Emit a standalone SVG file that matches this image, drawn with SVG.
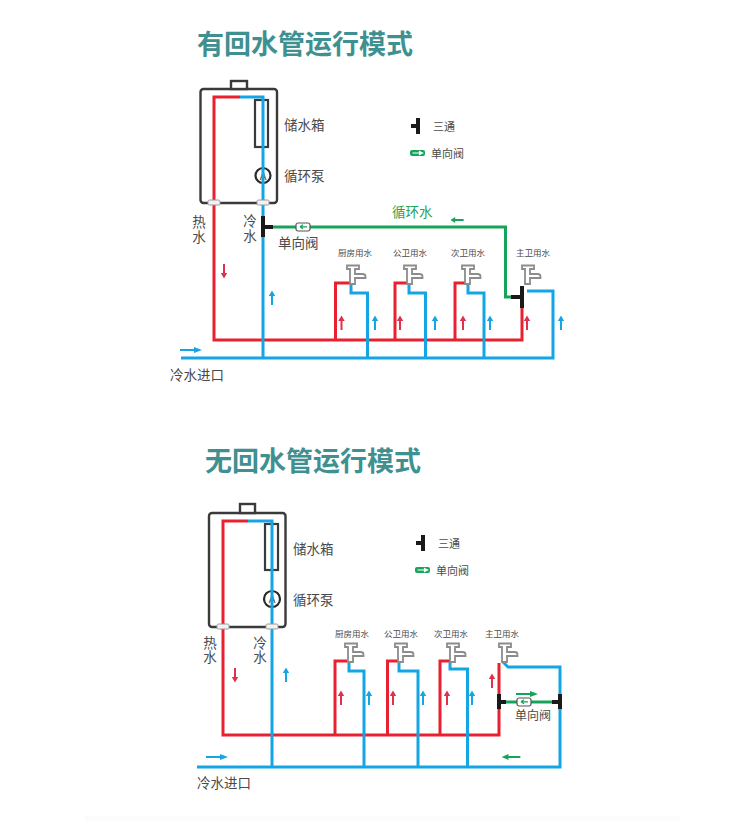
<svg xmlns="http://www.w3.org/2000/svg" width="730" height="825" viewBox="0 0 730 825">
<style>
text{font-family:"Noto Sans CJK SC","Noto Sans",sans-serif;fill:#4a4a4a}
.title{font-size:27px;font-weight:700;fill:#3f9090}
.lb{font-size:13.5px}
.sm{font-size:8.5px}
.lg{font-size:11px}
.gt{fill:#1fa45c}
.p{fill:none;stroke-width:3;stroke-linejoin:miter}
.red{stroke:#e8202f}
.blue{stroke:#14a5e4}
.green{stroke:#16a45a}
.blk{fill:none;stroke:#1a1a1a;stroke-width:4}
.tank{fill:#fff;stroke:#3a3a3a;stroke-width:2.4}
.box{fill:none;stroke:#3a3a3a;stroke-width:2.2}
.fit{fill:#f2f2f2;stroke:#9a9a9a;stroke-width:1}
</style>
<defs>
<path id="up" d="M-1 7V-2H-3.200L0-7.500 3.200-2H1V7Z"/>
<path id="rt" d="M-11-1H3V-3L11 0 3 3V1H-11Z"/>
<g id="faucet"><path d="M1 .5H13V4H9V9H16.500Q19.500 9 19.500 11.500V13H9V19H4V4H1Z" fill="#fff" stroke="#8c8c8c" stroke-width="1.800"/></g>
<g id="valve"><rect x="-7" y="-4" width="14" height="8" rx="2" fill="#fff" stroke="#555" stroke-width="1.200"/><path d="M4-.2H-3M-3-.2l3-2M-3-.2l3 2" fill="none" stroke="#16a45a" stroke-width="1.200"/></g>
<g id="valveg"><rect x="-7.500" y="-3" width="15" height="6" rx="2" fill="#16a45a"/><path d="M-5 0H2M2-1.500 5 0 2 1.500Z" fill="#fff" stroke="#fff" stroke-width="1.200"/></g>
</defs>
<rect x="85" y="816" width="595" height="6" fill="#fbfdfd"/>

<text class="title" x="197" y="54">有回水管运行模式</text>
<g id="tank1">
<rect class="tank" x="200.500" y="89" width="76.500" height="114" rx="3"/>
<rect class="tank" x="231" y="81" width="16" height="8"/>
<rect class="box" x="255" y="100" width="13" height="47"/>
<circle cx="263" cy="175.500" r="7.500" fill="#fff" stroke="#2a2a2a" stroke-width="2.200"/>
<text x="263" y="179.500" text-anchor="middle" style="font-size:11px">A</text>
</g>
<g id="connectors1">
<path class="p red" d="M240 97H214V340H522V286"/>
<path class="p red" d="M335.500 340V283H350M395 340V283H409M455 340V283H468"/>
<path class="p blue" d="M240 97H263V358M181 358H553V291H527"/>
<path class="p blue" d="M351 284V293H367.500V358M409 284V293H425.500V358M468 284V293H484V358"/>
<path class="p green" d="M273 227H505.500V297H514"/>
<path class="blk" d="M263 216V237M263 227H273M522 286V308M522 297H511"/>
</g>
<g id="faucets1"><use href="#faucet" x="346" y="265"/><use href="#faucet" x="403" y="265"/><use href="#faucet" x="461" y="265"/><use href="#faucet" x="521" y="265"/></g>
<g id="fittings1"><rect class="fit" x="208" y="200" width="12" height="5" rx="1.500"/><rect class="fit" x="257" y="200" width="12" height="5" rx="1.500"/></g>
<g id="valve1"><use href="#valve" x="303" y="227"/></g>
<g id="arrows1">
<use href="#up" transform="translate(224 271) scale(1 -1)" fill="#e0304a"/>
<use href="#up" x="272" y="298" fill="#14a5e4"/>
<use href="#rt" transform="translate(191 350)" fill="#14a5e4"/>
<use href="#rt" transform="translate(457 220) scale(-.6 1)" fill="#16a45a"/>
<use href="#up" x="341.500" y="323" fill="#e0304a"/><use href="#up" x="400" y="323" fill="#e0304a"/><use href="#up" x="463" y="323" fill="#e0304a"/><use href="#up" x="527" y="323" fill="#e0304a"/>
<use href="#up" x="375" y="323" fill="#14a5e4"/><use href="#up" x="435" y="323" fill="#14a5e4"/><use href="#up" x="490" y="323" fill="#14a5e4"/><use href="#up" x="561" y="323" fill="#14a5e4"/>
</g>
<g id="legend1">
<path class="blk" d="M418 118V134M418 126H411"/>
<use href="#valveg" x="417.500" y="153"/>
<text class="lg" x="433" y="131">三通</text><text class="lg" x="431" y="158">单向阀</text>
</g>
<g id="labels1">
<text class="lb" x="284" y="130">储水箱</text><text class="lb" x="284" y="181">循环泵</text>
<text class="lb" text-anchor="middle"><tspan x="199" y="227">热</tspan><tspan x="199" y="242">水</tspan></text>
<text class="lb" text-anchor="middle"><tspan x="250" y="226">冷</tspan><tspan x="250" y="241">水</tspan></text>
<text class="lb" x="278" y="248">单向阀</text>
<text class="lb gt" x="392" y="217">循环水</text>
<text class="sm" x="355" y="256" text-anchor="middle">厨房用水</text><text class="sm" x="410" y="256" text-anchor="middle">公卫用水</text><text class="sm" x="468" y="256" text-anchor="middle">次卫用水</text><text class="sm" x="533" y="256" text-anchor="middle">主卫用水</text>
<text class="lb" x="170" y="380">冷水进口</text>
</g>

<text class="title" x="205" y="471">无回水管运行模式</text>
<g id="tank2">
<rect class="tank" x="209" y="513" width="76.500" height="114" rx="3"/>
<rect class="tank" x="240" y="504" width="15" height="9"/>
<rect class="box" x="265" y="524" width="13" height="46"/>
<circle cx="272" cy="599" r="8" fill="#fff" stroke="#2a2a2a" stroke-width="2.200"/>
<text x="272" y="603" text-anchor="middle" style="font-size:11px">A</text>
</g>
<g id="connectors2">
<path class="p red" d="M248 521H223V735H499V663"/>
<path class="p red" d="M335 735V661H347M387.500 735V661H399M440 735V661H451"/>
<path class="p blue" d="M248 521H272V767M197 767H560V667H508L503 662"/>
<path class="p blue" d="M349 662V671H364V767M399 662V671H418V767M450 662V669H467.500V767"/>
<path class="p green" d="M506 702H552"/>
<path class="blk" d="M499 694V709M499 702H506M560 694V709M560 702H552"/>
</g>
<g id="faucets2"><use href="#faucet" x="344" y="643"/><use href="#faucet" x="394" y="643"/><use href="#faucet" x="446" y="643"/><use href="#faucet" x="498" y="643"/></g>
<g id="fittings2"><rect class="fit" x="217" y="624" width="12" height="5" rx="1.500"/><rect class="fit" x="266" y="624" width="12" height="5" rx="1.500"/></g>
<g id="valve2"><use href="#valve" x="524" y="702"/></g>
<g id="arrows2">
<use href="#up" transform="translate(235 675) scale(1 -1)" fill="#e0304a"/>
<use href="#up" x="286" y="675" fill="#14a5e4"/>
<use href="#rt" x="217" y="757" fill="#14a5e4"/>
<use href="#rt" transform="translate(511 757) scale(-.85 1)" fill="#16a45a"/>
<use href="#rt" x="527" y="694" fill="#16a45a"/>
<use href="#up" x="341" y="698" fill="#e0304a"/><use href="#up" x="393" y="698" fill="#e0304a"/><use href="#up" x="447" y="698" fill="#e0304a"/><use href="#up" x="492" y="681" fill="#e0304a"/>
<use href="#up" x="369" y="698" fill="#14a5e4"/><use href="#up" x="423" y="698" fill="#14a5e4"/><use href="#up" x="472" y="698" fill="#14a5e4"/>
</g>
<g id="legend2">
<path class="blk" d="M423 535V551M423 543H416"/>
<use href="#valveg" x="422.500" y="570"/>
<text class="lg" x="438" y="548">三通</text><text class="lg" x="436" y="575">单向阀</text>
</g>
<g id="labels2">
<text class="lb" x="293" y="554">储水箱</text><text class="lb" x="293" y="605">循环泵</text>
<text class="lb" text-anchor="middle"><tspan x="210" y="648">热</tspan><tspan x="210" y="662">水</tspan></text>
<text class="lb" text-anchor="middle"><tspan x="260" y="648">冷</tspan><tspan x="260" y="662">水</tspan></text>
<text class="lb" x="515" y="720" style="font-size:12px">单向阀</text>
<text class="sm" x="352" y="637" text-anchor="middle">厨房用水</text><text class="sm" x="401" y="637" text-anchor="middle">公卫用水</text><text class="sm" x="451" y="637" text-anchor="middle">次卫用水</text><text class="sm" x="502" y="637" text-anchor="middle">主卫用水</text>
<text class="lb" x="197" y="788">冷水进口</text>
</g>
</svg>
